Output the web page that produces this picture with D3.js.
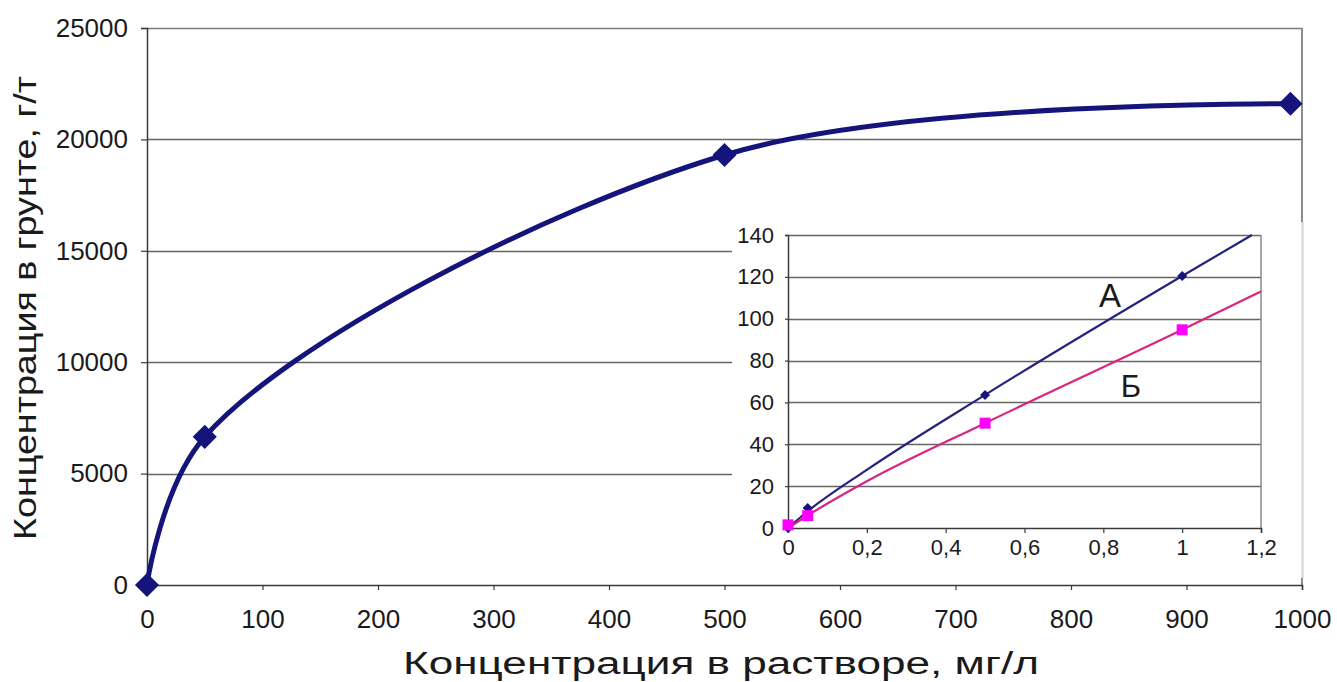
<!DOCTYPE html>
<html>
<head>
<meta charset="utf-8">
<script src="https://cdn.jsdelivr.net/npm/d3@7"></script>
<style>
  html, body { margin: 0; padding: 0; background: #fff; }
  svg { display: block; font-family: "Liberation Sans", Arial, sans-serif; }
</style>
</head>
<body>
<svg id="chart" width="1337" height="682"></svg>
<script>
// Main isotherm: concentration in solution (mg/l) vs. in soil (g/t)
const mainX = [0, 50, 500, 990];
const mainY = [0, 6650, 19300, 21600];
const mainXTicks = [0, 100, 200, 300, 400, 500, 600, 700, 800, 900, 1000];
const mainYTicks = [0, 5000, 10000, 15000, 20000, 25000];

// Inset: low-concentration range, samples А and Б
const insetX = [0, 0.05, 0.5, 1];
const seriesA = [0, 9.5, 63.6, 120.4];
const seriesB = [1.5, 5.9, 50.1, 94.7];
// Trend lines drawn over the inset range
const trendAX = [0, 0.05, 0.2, 0.5, 1, 1.177];
const trendAY = [0, 8, 27.8, 63.6, 120.4, 140];
const trendBX = [0, 0.05, 0.2, 0.5, 1, 1.2];
const trendBY = [0, 6, 22.3, 50.1, 94.7, 113];
const insetXTicks = [0, 0.2, 0.4, 0.6, 0.8, 1, 1.2];
const insetYTicks = [0, 20, 40, 60, 80, 100, 120, 140];

const xTitle = "Концентрация в растворе, мг/л";
const yTitle = "Концентрация в грунте, г/т";

const ru = d3.formatLocale({ decimal: ",", thousands: "", grouping: [3], currency: ["", ""] });

const svg = d3.select("#chart");
const navy = "#14147a";

// ---------- main chart ----------
const x = d3.scaleLinear().domain([0, 1000]).range([147, 1302]);
const y = d3.scaleLinear().domain([0, 25000]).range([585, 28]);
const main = svg.append("g");

// horizontal grid
main.append("g").selectAll("line")
  .data(mainYTicks.filter(v => v > 0 && v < 25000))
  .join("line")
  .attr("x1", x(0)).attr("x2", x(1000))
  .attr("y1", d => Math.round(y(d)) + 0.5).attr("y2", d => Math.round(y(d)) + 0.5)
  .attr("stroke", "#666").attr("stroke-width", 1.3);

// frame (top + right)
main.append("line").attr("x1", x(0)).attr("x2", x(1000))
  .attr("y1", y(25000) + 0.5).attr("y2", y(25000) + 0.5)
  .attr("stroke", "#7c7c7c").attr("stroke-width", 1.5);
main.append("line").attr("x1", x(1000)).attr("x2", x(1000))
  .attr("y1", y(25000)).attr("y2", y(0))
  .attr("stroke", "#8c8c8c").attr("stroke-width", 2);

// axes
const yAxis = main.append("g").attr("transform", `translate(${x(0)},0)`)
  .call(d3.axisLeft(y).tickValues(mainYTicks).tickSize(6).tickPadding(13).tickFormat(d3.format("d")));
const xAxis = main.append("g").attr("transform", `translate(0,${y(0)})`)
  .call(d3.axisBottom(x).tickValues(mainXTicks).tickSize(5).tickPadding(20).tickFormat(d3.format("d")));
[yAxis, xAxis].forEach(g => {
  g.select(".domain").attr("stroke", "#3a3a3a").attr("stroke-width", 1.5);
  g.selectAll(".tick line").attr("stroke", "#3a3a3a").attr("stroke-width", 1.2);
  g.selectAll(".tick text").attr("fill", "#1a1a1a").style("font-size", "26px");
});

// axis titles
main.append("text").attr("x", 721).attr("y", 674).attr("text-anchor", "middle")
  .attr("textLength", 636).attr("lengthAdjust", "spacingAndGlyphs")
  .style("font-size", "31px").attr("fill", "#1a1a1a").text(xTitle);
main.append("text").attr("transform", `translate(36,308) rotate(-90)`).attr("text-anchor", "middle")
  .attr("textLength", 464).attr("lengthAdjust", "spacingAndGlyphs")
  .style("font-size", "31px").attr("fill", "#1a1a1a").text(yTitle);

// isotherm curve
const mainPts = mainX.map((v, i) => [v, mainY[i]]);
main.append("path").datum(mainPts)
  .attr("d", d3.line().x(d => x(d[0])).y(d => y(d[1])).curve(d3.curveCatmullRom.alpha(0.5)))
  .attr("fill", "none").attr("stroke", navy).attr("stroke-width", 5);
main.append("g").selectAll("path").data(mainPts).join("path")
  .attr("d", d3.symbol(d3.symbolSquare, 290))
  .attr("transform", d => `translate(${x(d[0])},${y(d[1])}) rotate(45)`)
  .attr("fill", navy);

// ---------- inset ----------
const inset = svg.append("g");
inset.append("rect").attr("x", 732).attr("y", 222).attr("width", 572).attr("height", 356)
  .attr("fill", "#fff");
inset.append("line").attr("x1", 1302.5).attr("x2", 1302.5).attr("y1", 222).attr("y2", 578)
  .attr("stroke", "#d2d2d2").attr("stroke-width", 2);

const ix = d3.scaleLinear().domain([0, 1.2]).range([788, 1261]);
const iy = d3.scaleLinear().domain([0, 140]).range([528, 235]);

inset.append("g").selectAll("line")
  .data(insetYTicks.filter(v => v > 0 && v < 140))
  .join("line")
  .attr("x1", ix(0)).attr("x2", ix(1.2))
  .attr("y1", d => Math.round(iy(d)) + 0.5).attr("y2", d => Math.round(iy(d)) + 0.5)
  .attr("stroke", "#666").attr("stroke-width", 1.3);
inset.append("line").attr("x1", ix(0)).attr("x2", ix(1.2))
  .attr("y1", iy(140) + 0.5).attr("y2", iy(140) + 0.5)
  .attr("stroke", "#666").attr("stroke-width", 1.5);
inset.append("line").attr("x1", ix(1.2)).attr("x2", ix(1.2))
  .attr("y1", iy(140)).attr("y2", iy(0))
  .attr("stroke", "#8a8a8a").attr("stroke-width", 1.5);

const iyAxis = inset.append("g").attr("transform", `translate(${ix(0)},0)`)
  .call(d3.axisLeft(iy).tickValues(insetYTicks).tickSize(3).tickPadding(11).tickFormat(d3.format("d")));
const ixAxis = inset.append("g").attr("transform", `translate(0,${iy(0)})`)
  .call(d3.axisBottom(ix).tickValues(insetXTicks).tickSize(5).tickPadding(6).tickFormat(ru.format("~g")));
[iyAxis, ixAxis].forEach(g => {
  g.select(".domain").attr("stroke", "#3a3a3a").attr("stroke-width", 1.5);
  g.selectAll(".tick line").attr("stroke", "#3a3a3a").attr("stroke-width", 1.2);
  g.selectAll(".tick text").attr("fill", "#1a1a1a").style("font-size", "22px");
});

const lineGen = d3.line().x(d => ix(d[0])).y(d => iy(d[1])).curve(d3.curveMonotoneX);
inset.append("path").datum(trendAX.map((v, i) => [v, trendAY[i]]))
  .attr("d", lineGen).attr("fill", "none").attr("stroke", "#24247c").attr("stroke-width", 2.2);
inset.append("path").datum(trendBX.map((v, i) => [v, trendBY[i]]))
  .attr("d", lineGen).attr("fill", "none").attr("stroke", "#d8267e").attr("stroke-width", 2.2);

inset.append("g").selectAll("path").data(insetX.map((v, i) => [v, seriesA[i]])).join("path")
  .attr("d", d3.symbol(d3.symbolSquare, 50))
  .attr("transform", d => `translate(${ix(d[0])},${iy(d[1])}) rotate(45)`)
  .attr("fill", "#14147a");
inset.append("g").selectAll("path").data(insetX.map((v, i) => [v, seriesB[i]])).join("path")
  .attr("d", d3.symbol(d3.symbolSquare, 121))
  .attr("transform", d => `translate(${ix(d[0])},${iy(d[1])})`)
  .attr("fill", "#ff00ff");

inset.append("text").attr("x", 1110).attr("y", 307).attr("text-anchor", "middle")
  .style("font-size", "33px").attr("fill", "#1a1a1a").text("А");
inset.append("text").attr("x", 1131).attr("y", 397).attr("text-anchor", "middle")
  .style("font-size", "31px").attr("fill", "#1a1a1a").text("Б");
</script>
</body>
</html>
